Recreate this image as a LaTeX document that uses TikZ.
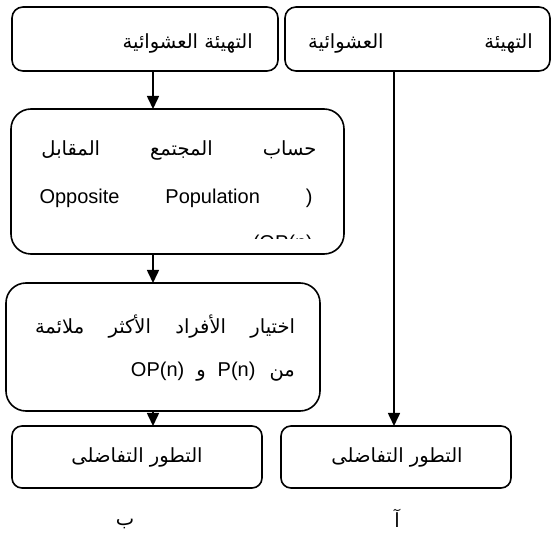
\documentclass[tikz,border=0pt]{standalone}
\usepackage{fontspec}
\setmainfont{Liberation Sans}
\newfontfamily\arabicfont[Script=Arabic]{DejaVu Sans}
\usetikzlibrary{arrows.meta}
\TeXXeTstate=1
\newcommand{\latn}[1]{{\fontspec{Liberation Sans}\fontsize{20}{22}\selectfont #1}}
\begin{document}
\begin{tikzpicture}[x=1pt,y=-1pt,
  box/.style={draw,line width=1.6pt,rounded corners=#1},
  arr/.style={line width=1.6pt,-{Triangle[length=13pt,width=12pt]}},
  ar/.style={inner sep=0pt,font=\arabicfont\fontsize{19.5}{22}\selectfont},
  la/.style={inner sep=0pt,font=\fontsize{20}{22}\selectfont}]
\useasboundingbox (0,0) rectangle (552,537);
% boxes
\draw[box=11] (12,7) rectangle (278,71);
\draw[box=11] (285,7) rectangle (550,71);
\draw[box=20] (11,109) rectangle (344,254);
\draw[box=20] (6,283) rectangle (320,411);
\draw[box=10] (12,426) rectangle (262,488);
\draw[box=10] (281,426) rectangle (511,488);
\coordinate (tl) at (153,71);
\coordinate (opn) at (153,109);
\coordinate (ops) at (153,254);
\coordinate (seln) at (153,283);
\coordinate (sels) at (153,411);
\coordinate (bln) at (153,426);
\coordinate (tr) at (394,71);
\coordinate (brn) at (394,426);
\draw[arr] (tl) -- (opn);
\draw[arr] (ops) -- (seln);
\draw[arr] (sels) -- (bln);
\draw[arr] (tr) -- (brn);
% texts
\node[ar,anchor=east] (t1) at (253,43) {\beginR التهيئة العشوائية\endR};
\node[ar,anchor=east] (t2a) at (533,43) {\beginR التهيئة\endR};
\node[ar,anchor=west] (t2b) at (308,43) {\beginR العشوائية\endR};
\node[ar,anchor=center] (o1) at (179,150) {\hbox to 275pt{\beginR حساب\hfill المجتمع\hfill المقابل\endR}};
\node[la,anchor=center] (o2) at (176,198) {\hbox to 273pt{Opposite\hfill Population\hfill )}};
\begin{scope}
\clip (11,200) rectangle (344,239);
\node[la,anchor=east] (o3) at (313,244) {(OP(n)};
\end{scope}
\node[ar,anchor=center] (s1) at (165,327) {\hbox to 260pt{\beginR اختيار\hfill الأفراد\hfill الأكثر\hfill ملائمة\endR}};
\node[ar,anchor=east] (s2) at (295,372) {\beginR من\hskip 14pt\beginL\latn{P(n)}\endL\hskip 12pt و\hskip 12pt\beginL\latn{OP(n)}\endL\endR};
\node[ar] (b1) at (137,457) {\beginR التطور التفاضلى\endR};
\node[ar] (b2) at (397,457) {\beginR التطور التفاضلى\endR};
\node[ar] (lb) at (125,524) {\beginR ب\endR};
\node[ar] (la) at (397,518) {\beginR آ\endR};
\end{tikzpicture}
\end{document}
